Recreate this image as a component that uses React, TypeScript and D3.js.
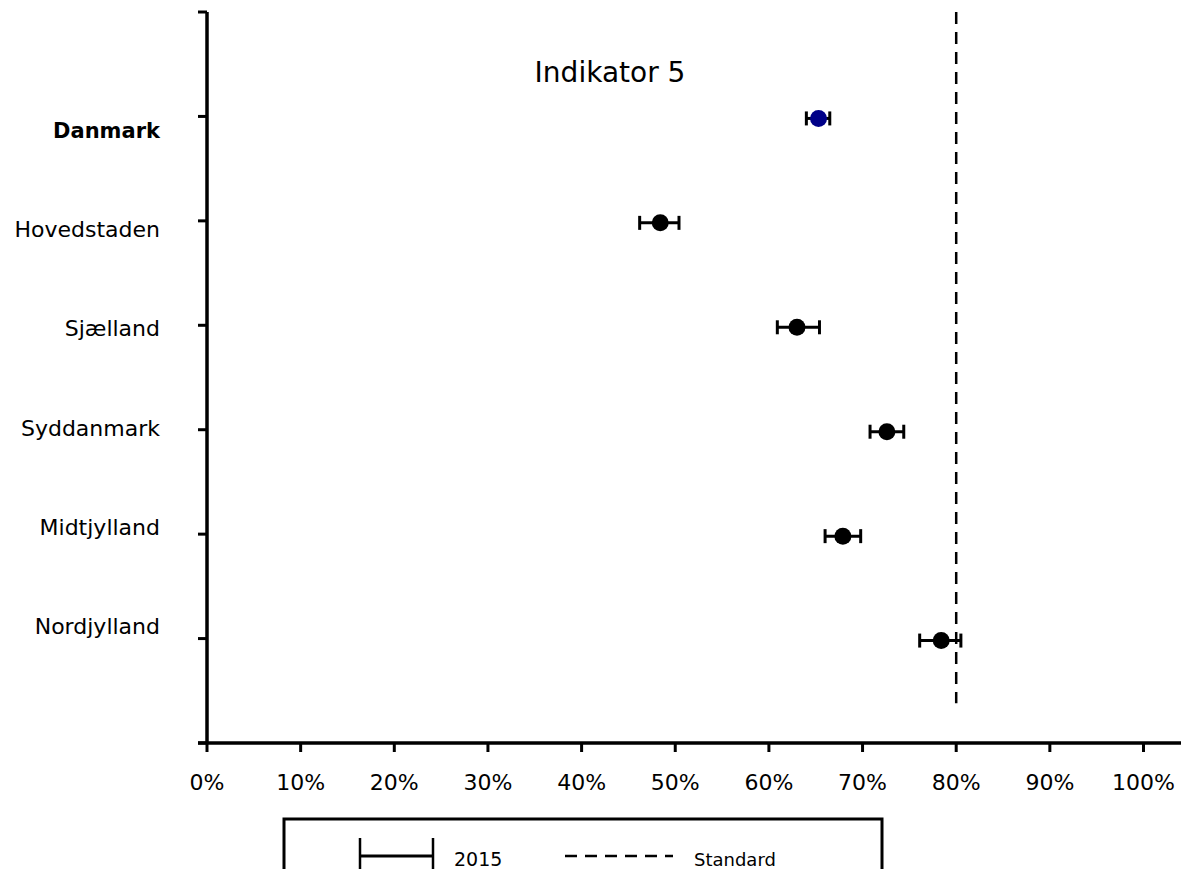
import React, { useEffect, useRef } from "react";
import * as d3 from "d3";

const regions = ["Danmark", "Hovedstaden", "Sjælland", "Syddanmark", "Midtjylland", "Nordjylland"];
const estimates = [65.3, 48.4, 63.0, 72.6, 67.9, 78.4];
const lower = [64.0, 46.2, 60.9, 70.8, 66.0, 76.1];
const upper = [66.5, 50.4, 65.4, 74.4, 69.8, 80.5];
const standard = 80;
const xTicks = [0, 10, 20, 30, 40, 50, 60, 70, 80, 90, 100];
const title = "Indikator 5";
const legendLabels = ["2015", "Standard"];

const FONT = "'DejaVu Sans', Verdana, sans-serif";

const App = () => {
  const svgRef = useRef<SVGSVGElement>(null);

  useEffect(() => {
    const svg = d3.select(svgRef.current);
    svg.selectAll("*").remove();

    const left = 207;
    const top = 12;
    const bottom = 743;

    const x = d3.scaleLinear().domain([0, 100]).range([left, 1143.5]);
    // slots: 0 = top of axis, 1..6 = regions, 7 = bottom of axis
    const y = d3.scaleLinear().domain([0, 7]).range([top, bottom]);
    // excel spreads the category labels a bit differently from the ticks
    const yLabel = d3.scalePoint().domain(regions).range([130, 626]);

    svg.append("rect").attr("width", 1181).attr("height", 900).attr("fill", "#fff");

    // y axis
    svg.append("line")
      .attr("x1", left).attr("x2", left)
      .attr("y1", top).attr("y2", bottom)
      .attr("stroke", "#000").attr("stroke-width", 3.5);
    svg.selectAll(".ytick")
      .data(d3.range(0, 8))
      .join("line")
      .attr("x1", left - 9).attr("x2", left)
      .attr("y1", (d) => y(d)).attr("y2", (d) => y(d))
      .attr("stroke", "#000").attr("stroke-width", 3);

    // x axis
    svg.append("line")
      .attr("x1", left - 9).attr("x2", 1181)
      .attr("y1", bottom).attr("y2", bottom)
      .attr("stroke", "#000").attr("stroke-width", 3.5);
    svg.selectAll(".xtick")
      .data(xTicks)
      .join("line")
      .attr("x1", (d) => x(d)).attr("x2", (d) => x(d))
      .attr("y1", bottom).attr("y2", bottom + 9)
      .attr("stroke", "#000").attr("stroke-width", 3);
    svg.selectAll(".xlabel")
      .data(xTicks)
      .join("text")
      .attr("x", (d) => x(d))
      .attr("y", 790)
      .attr("text-anchor", "middle")
      .style("font-family", FONT)
      .style("font-size", "22px")
      .text((d) => `${d}%`);

    // category labels
    svg.selectAll(".ylabel")
      .data(regions)
      .join("text")
      .attr("x", 160)
      .attr("y", (d) => yLabel(d) as number)
      .attr("dy", "0.36em")
      .attr("text-anchor", "end")
      .style("font-family", FONT)
      .style("font-size", (d, i) => (i === 0 ? "21px" : "22px"))
      .style("font-weight", (d, i) => (i === 0 ? "bold" : "normal"))
      .text((d) => d);

    // title
    svg.append("text")
      .attr("x", 610).attr("y", 82)
      .attr("text-anchor", "middle")
      .style("font-family", FONT)
      .style("font-size", "28px")
      .text(title);

    // standard line
    svg.append("line")
      .attr("x1", x(standard)).attr("x2", x(standard))
      .attr("y1", y(0)).attr("y2", y(6.62))
      .attr("stroke", "#000").attr("stroke-width", 2.5)
      .attr("stroke-dasharray", "12,8");

    // error bars
    const rows = regions.map((r, i) => ({ r, i, est: estimates[i], lo: lower[i], hi: upper[i] }));
    const g = svg.append("g");
    const cy = (i: number) => y(i + 1) + 2;
    g.selectAll(".bar")
      .data(rows)
      .join("line")
      .attr("x1", (d) => x(d.lo)).attr("x2", (d) => x(d.hi))
      .attr("y1", (d) => cy(d.i)).attr("y2", (d) => cy(d.i))
      .attr("stroke", "#000").attr("stroke-width", 3);
    g.selectAll(".capl")
      .data(rows)
      .join("line")
      .attr("x1", (d) => x(d.lo)).attr("x2", (d) => x(d.lo))
      .attr("y1", (d) => cy(d.i) - 7).attr("y2", (d) => cy(d.i) + 7)
      .attr("stroke", "#000").attr("stroke-width", 3);
    g.selectAll(".caph")
      .data(rows)
      .join("line")
      .attr("x1", (d) => x(d.hi)).attr("x2", (d) => x(d.hi))
      .attr("y1", (d) => cy(d.i) - 7).attr("y2", (d) => cy(d.i) + 7)
      .attr("stroke", "#000").attr("stroke-width", 3);
    g.selectAll(".dot")
      .data(rows)
      .join("circle")
      .attr("cx", (d) => x(d.est))
      .attr("cy", (d) => cy(d.i))
      .attr("r", 8.5)
      .attr("fill", (d) => (d.i === 0 ? "#000088" : "#000"));

    // legend
    const lg = svg.append("g");
    lg.append("rect")
      .attr("x", 284).attr("y", 819)
      .attr("width", 598).attr("height", 80)
      .attr("fill", "none").attr("stroke", "#000").attr("stroke-width", 3);
    lg.append("line").attr("x1", 360).attr("x2", 433).attr("y1", 856).attr("y2", 856)
      .attr("stroke", "#000").attr("stroke-width", 3);
    lg.append("line").attr("x1", 360).attr("x2", 360).attr("y1", 838).attr("y2", 875)
      .attr("stroke", "#000").attr("stroke-width", 2.5);
    lg.append("line").attr("x1", 433).attr("x2", 433).attr("y1", 838).attr("y2", 875)
      .attr("stroke", "#000").attr("stroke-width", 2.5);
    lg.append("text").attr("x", 454).attr("y", 866)
      .style("font-family", FONT).style("font-size", "19px").text(legendLabels[0]);
    lg.append("line").attr("x1", 565).attr("x2", 673).attr("y1", 856).attr("y2", 856)
      .attr("stroke", "#000").attr("stroke-width", 2.5).attr("stroke-dasharray", "12,8");
    lg.append("text").attr("x", 694).attr("y", 866)
      .style("font-family", FONT).style("font-size", "18px").text(legendLabels[1]);
  }, []);

  return (
    <svg
      ref={svgRef}
      width={1181}
      height={900}
      style={{ position: "absolute", left: 0, top: 0 }}
    ></svg>
  );
};

export default App;
